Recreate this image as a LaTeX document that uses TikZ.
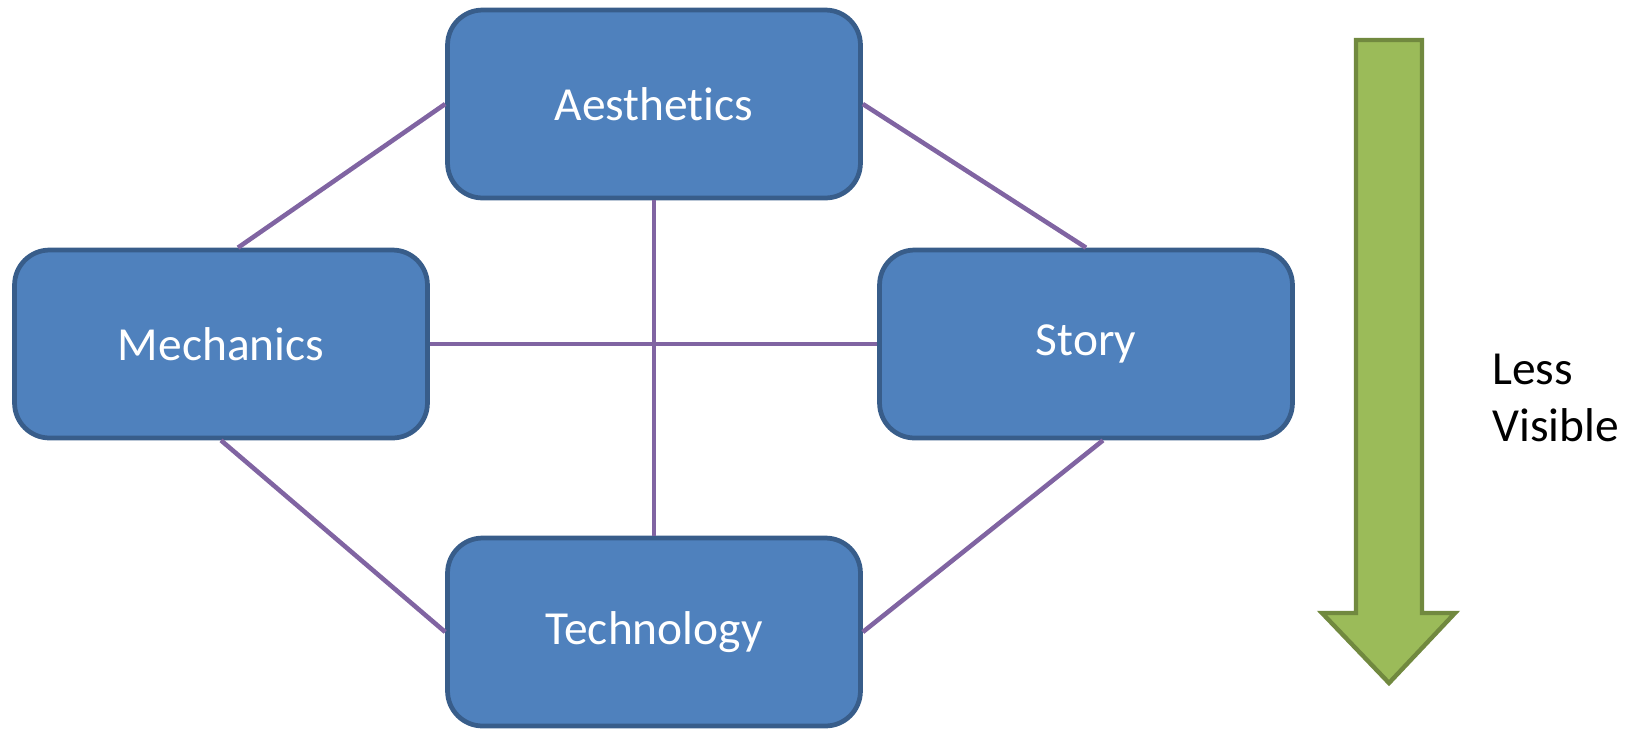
\documentclass[tikz,border=0pt]{standalone}
\usepackage{fontspec}
\setmainfont[Ligatures=NoCommon]{Carlito}
\usetikzlibrary{positioning,calc}

\definecolor{boxfill}{HTML}{4F81BD}
\definecolor{boxline}{HTML}{385D8A}
\definecolor{linkline}{HTML}{8064A2}
\definecolor{arrowfill}{HTML}{9BBB59}
\definecolor{arrowline}{HTML}{71893F}

\tikzset{
  layerbox/.style={draw=boxline, fill=boxfill, line width=2.7pt, rounded corners=0.7cm,
    minimum width=8.26cm, minimum height=3.76cm, text=white,
    font=\fontsize{27}{32}\selectfont},
  link/.style={draw=linkline, line width=2.6pt}
}

\begin{document}
\begin{tikzpicture}[x=0.02cm, y=-0.02cm]
        \useasboundingbox (0,0) rectangle (1630,731);

        % Four layers
        \node[layerbox] (aes) at (654,104) {Aesthetics};
        \node[layerbox] (mech) at (221,344) {Mechanics};
        \node[layerbox] (story) at (1086,344) {Story};
        \node[layerbox] (tech) at (654,632) {Technology};

        % Links between layers
        \draw[link] (aes.west) -- (mech.80);
        \draw[link] (aes.east) -- (story.north);
        \draw[link] (aes.south) -- (tech.north);
        \draw[link] (mech.east) -- (story.west);
        \draw[link] (mech.south) -- (tech.west);
        \draw[link] (story.-80) -- (tech.east);

        % Visibility arrow
        \draw[fill=arrowfill, draw=arrowline, line width=2.5pt]
          (1356,40) -- (1422,40) -- (1422,613) -- (1455,613) -- (1389,683)
          -- (1322,613) -- (1356,613) -- cycle;
        \node[anchor=west, align=left, inner sep=0pt,
          font=\fontsize{27}{32.5}\selectfont] (vis) at (1492,398) {Less\\Visible};
    \end{tikzpicture}
\end{document}
